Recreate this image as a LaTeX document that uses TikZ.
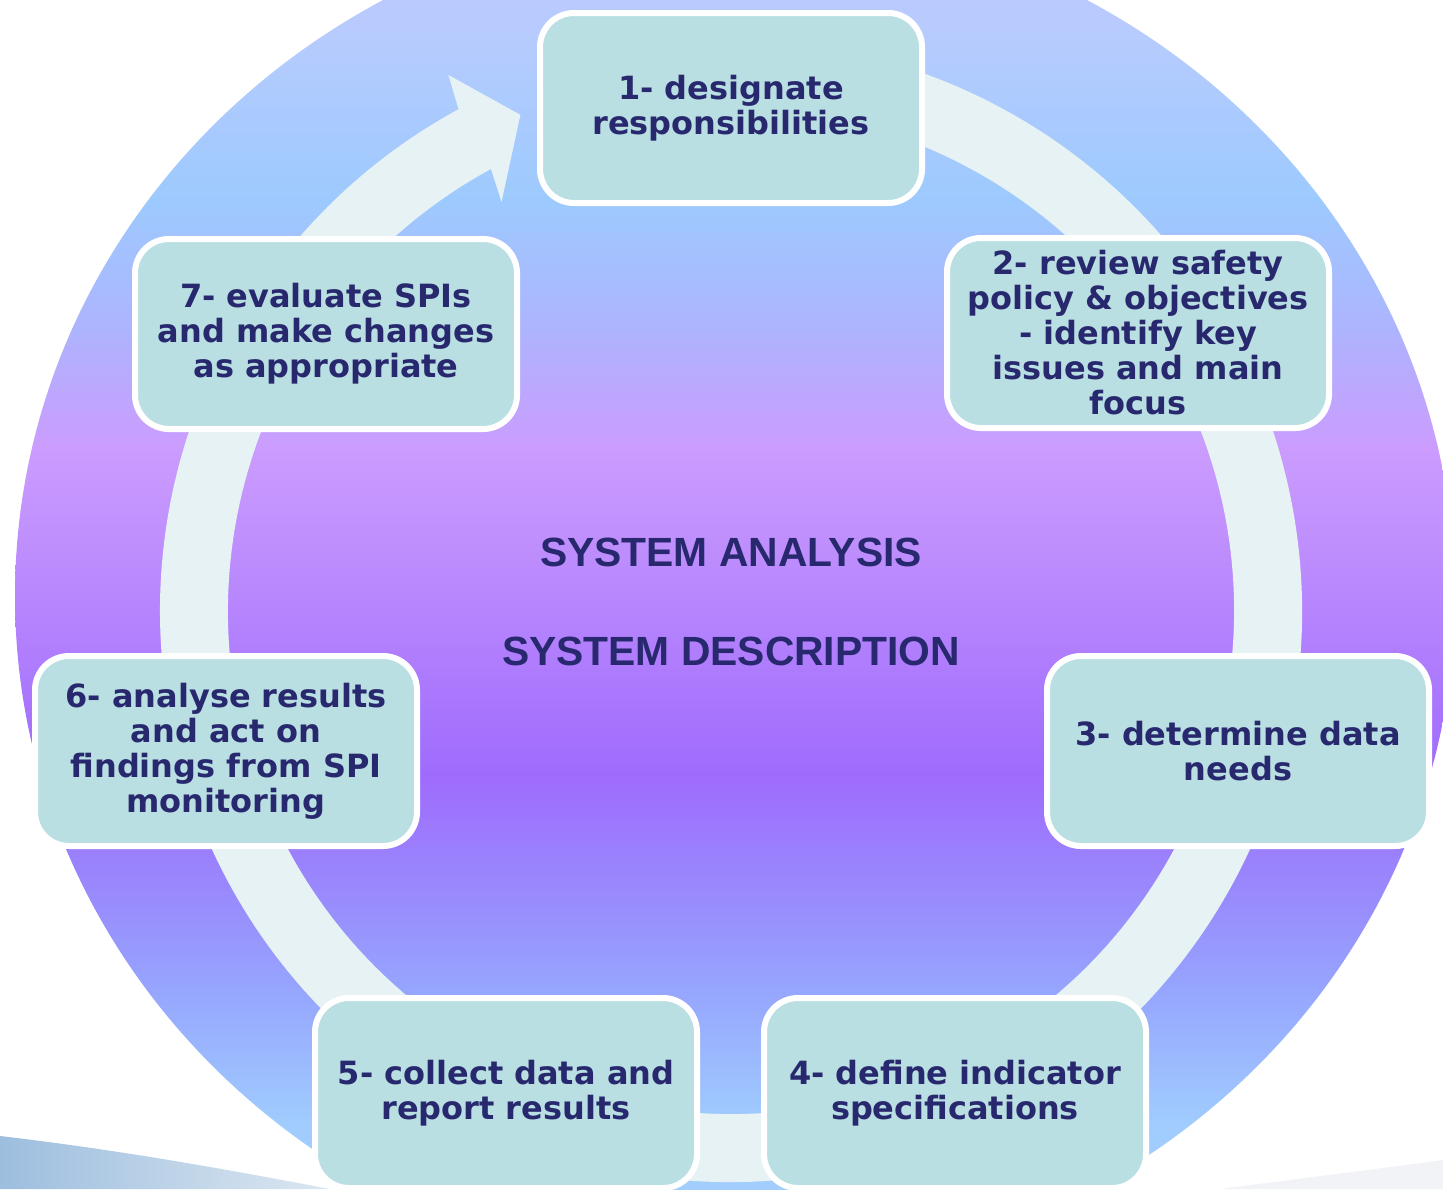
\documentclass[tikz,border=0pt]{standalone}
\usepackage{fontspec}
\setmainfont{DejaVu Sans}
\newfontfamily\headfont{Liberation Sans}
\usetikzlibrary{calc}
\definecolor{boxfill}{HTML}{B9DFE2}
\definecolor{ink}{HTML}{28286E}
\definecolor{ringcol}{HTML}{E6F2F4}
\definecolor{swooshA}{HTML}{9DBEDF}
\definecolor{swooshB}{HTML}{DCE7F1}
\definecolor{swooshC}{HTML}{F1F3F7}
\definecolor{sA}{HTML}{BDC6FD}
\definecolor{sB}{HTML}{B9CBFE}
\definecolor{sC}{HTML}{9DCAFE}
\definecolor{sD}{HTML}{ADB4FE}
\definecolor{sE}{HTML}{CB9CFE}
\definecolor{sF}{HTML}{B887FD}
\definecolor{sG}{HTML}{9F6BFD}
\definecolor{sH}{HTML}{988FFD}
\definecolor{sI}{HTML}{96A6FE}
\definecolor{sJ}{HTML}{A0CCFE}
\definecolor{sK}{HTML}{A6D0FE}
\pgfdeclareverticalshading{discshade}{100bp}{color(0bp)=(sK); color(25bp)=(sK);
  color(30.7bp)=(sJ); color(35.5bp)=(sI); color(38.4bp)=(sH); color(43.5bp)=(sG);
  color(50bp)=(sF); color(55.4bp)=(sE); color(59.8bp)=(sD); color(64.5bp)=(sC);
  color(71.1bp)=(sB); color(75bp)=(sA); color(100bp)=(sA)}
\tikzstyle{phase} = [rectangle, rounded corners=17pt, minimum width=191pt, minimum height=95pt, inner sep=2pt, text centered, align=center, draw=white, line width=3pt, fill=boxfill, text=ink, font=\fontsize{16}{17.5}\selectfont\bfseries]
\tikzstyle{title} = [text=ink, font=\headfont\fontsize{20.4}{24}\selectfont\bfseries]

\begin{document}
\begin{tikzpicture}[x=0.5pt, y=0.5pt]
\useasboundingbox (0,0) rectangle (1443,-1189);
\clip (0,0) rectangle (1443,-1189);
\fill[white] (0,0) rectangle (1443,-1189);
\shade[left color=swooshA, right color=swooshB] (0,-1136) .. controls (120,-1150) and (230,-1170) .. (330,-1189) -- (0,-1189) -- cycle;
\fill[swooshC] (1220,-1189) .. controls (1320,-1176) and (1400,-1166) .. (1443,-1160) -- (1443,-1189) -- cycle;
\shade[shading=discshade] (735,-596) ellipse [x radius=720, y radius=683];

% cycle arrow
\coordinate (Hub) at (731,-611);
\fill[ringcol] ($(Hub)+(100:571)$) arc[start angle=100, end angle=-241.5, radius=571]
  -- ($(Hub)+(117.8:606)$) -- ($(Hub)+(113:539)$) -- ($(Hub)+(119.3:469)$)
  -- ($(Hub)+(118.5:503)$) arc[start angle=-241.5, end angle=100, radius=503] -- cycle;

\node (Designate) [phase] at (731,-108) {1- designate\\responsibilities};
\node (Review) [phase] at (1138,-333) {2- review safety\\policy \& objectives\\- identify key\\issues and main\\focus};
\node (Determine) [phase] at (1238,-751) {3- determine data\\needs};
\node (Define) [phase] at (955,-1093) {4- define indicator\\specifications};
\node (Collect) [phase] at (506,-1093) {5- collect data and\\report results};
\node (Analyse) [phase] at (226,-751) {6- analyse results\\and act on\\findings from SPI\\monitoring};
\node (Evaluate) [phase] at (326,-334) {7- evaluate SPIs\\and make changes\\as appropriate};

\node (Analysis) [title] at (731,-552) {SYSTEM ANALYSIS};
\node (Description) [title] at (731,-651) {SYSTEM DESCRIPTION};
\end{tikzpicture}
\end{document}
